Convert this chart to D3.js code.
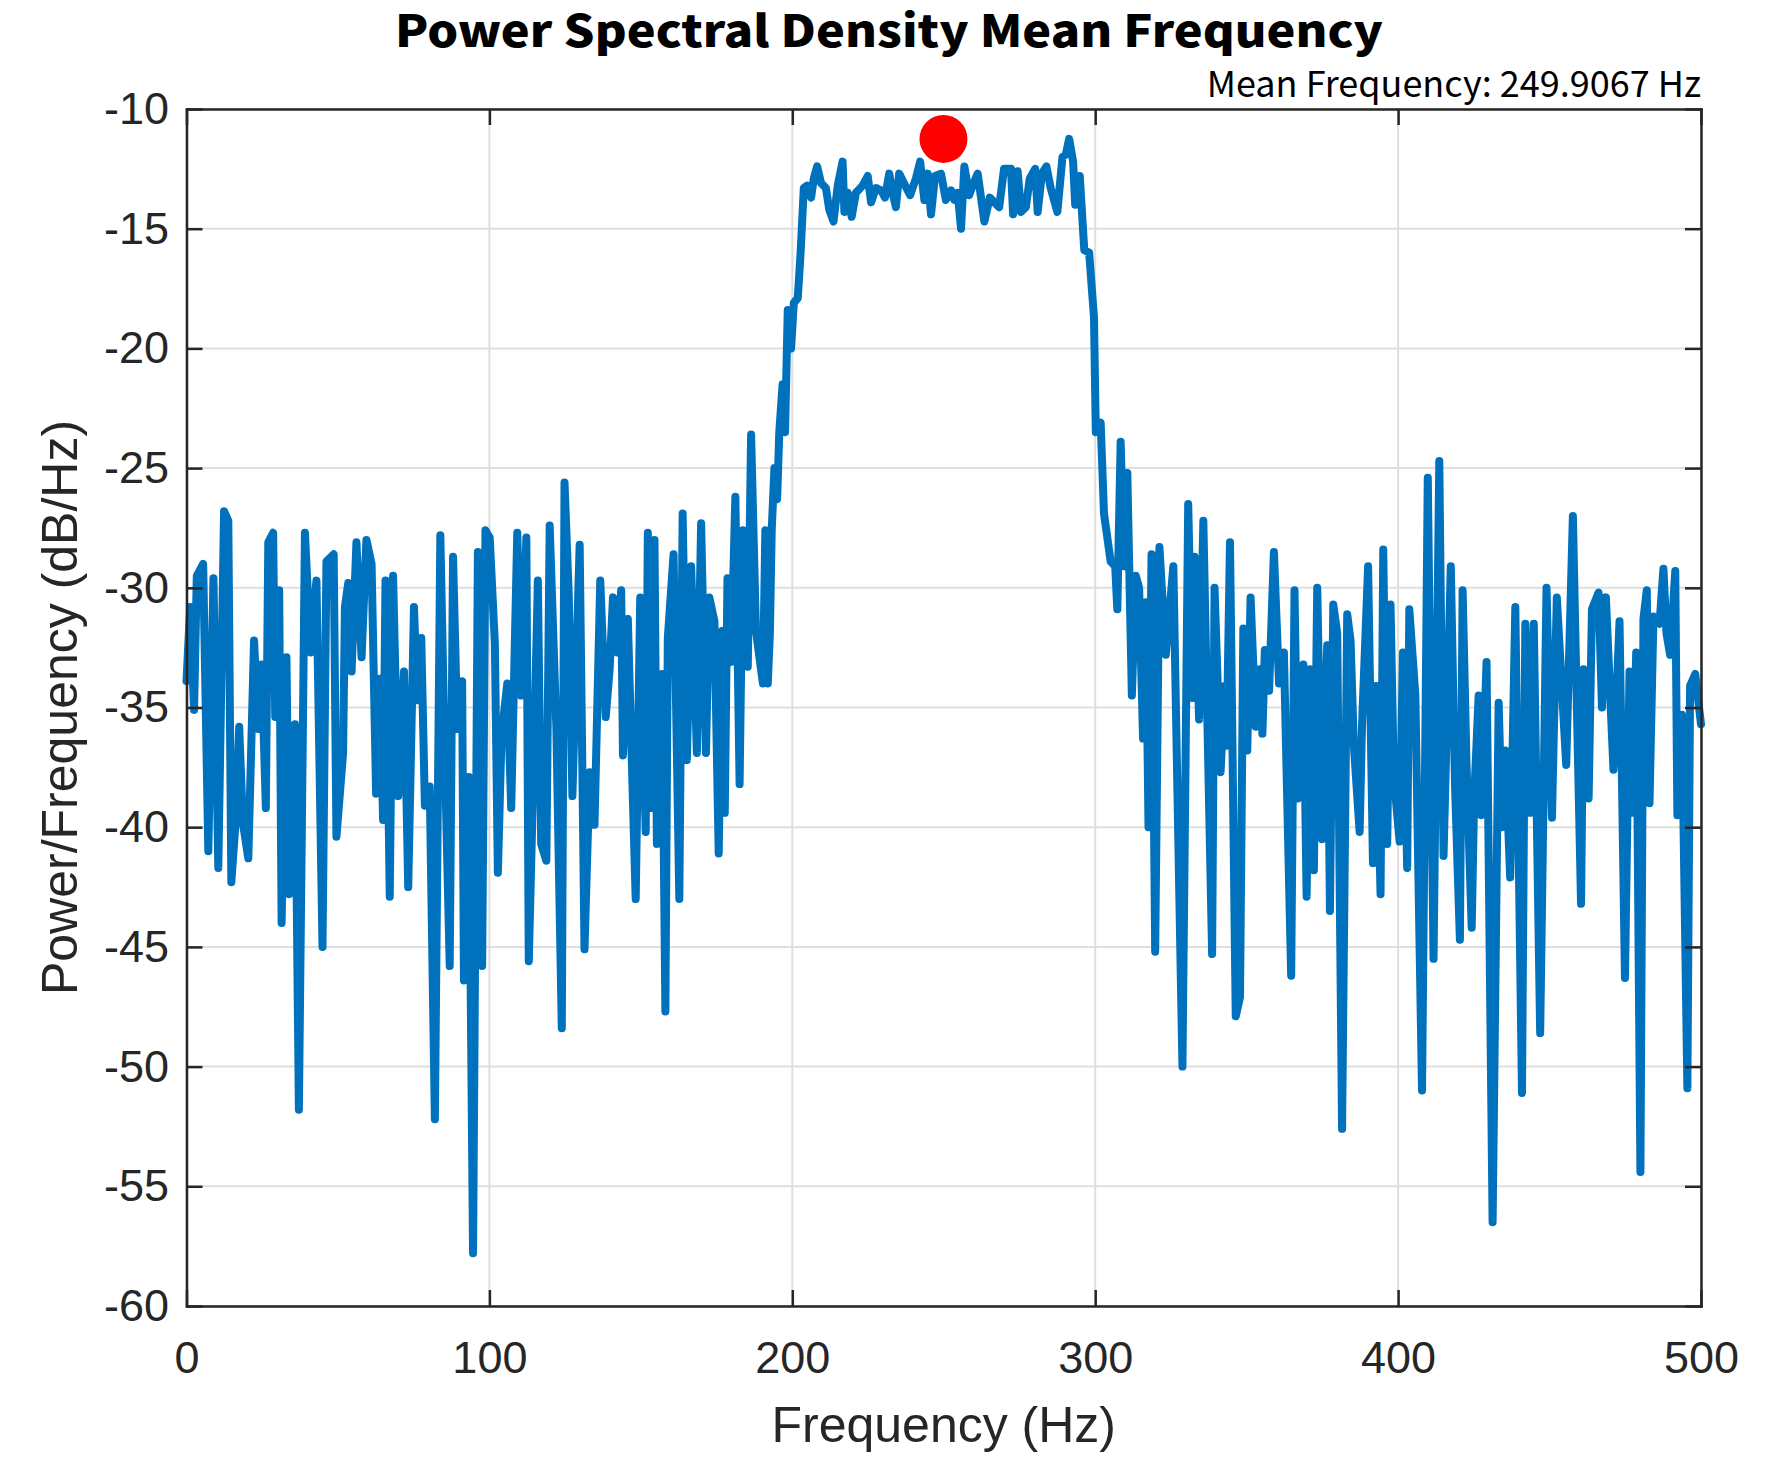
<!DOCTYPE html>
<html>
<head>
<meta charset="utf-8">
<script src="https://cdn.jsdelivr.net/npm/d3@7"></script>
<style>
  html, body { margin: 0; padding: 0; background: #ffffff; }
  svg { display: block; }
</style>
</head>
<body>
<svg id="chart" width="1781" height="1465"></svg>
<script>
// ---------------- data ----------------
const freqHz = [
  0, 1.2, 2.5, 3.4, 5.5, 7.2, 8.9, 10.5, 12.4, 13.8,
  14.8, 16.2, 17.4, 18.6, 20.4, 22.3, 23.7, 24.8, 26.2, 27.0,
  28.6, 29.3, 30.6, 31.4, 33.0, 33.9, 35.8, 37.1, 39.1, 41.0,
  42.9, 44.9, 46.2, 48.6, 49.5, 51.7, 52.3, 53.4, 54.5, 56.1,
  57.8, 59.4, 61.1, 62.6, 63.8, 64.9, 65.7, 67.1, 68.2, 69.9,
  71.8, 73.2, 75.1, 76.2, 77.5, 78.7, 80.3, 82.0, 83.8, 85.3,
  86.9, 88.0, 89.4, 91.0, 91.6, 93.2, 94.6, 96.2, 97.6, 98.7,
  100.1, 101.8, 102.8, 104.0, 105.9, 107.2, 109.2, 110.5, 112.2, 113.0,
  114.7, 116.0, 117.1, 118.8, 119.9, 122.1, 123.9, 124.8, 126.2, 127.4,
  129.8, 131.4, 133.1, 134.7, 136.6, 138.4, 139.7, 140.8, 142.2, 143.5,
  144.1, 145.7, 148.3, 149.8, 151.6, 152.3, 153.4, 154.5, 155.3, 157.0,
  158.1, 158.9, 160.8, 162.7, 163.8, 165.2, 166.6, 168.5, 169.9, 171.5,
  172.6, 174.3, 175.7, 176.8, 177.7, 178.6, 179.8, 181.2, 182.6, 183.7,
  185.3, 186.4, 188.0, 190.3, 191.1, 191.9, 192.6, 193.2, 194.1, 195.0,
  195.7, 196.8, 197.6, 198.5, 199.6, 200.5, 201.8, 202.7, 203.8, 204.9,
  206.2, 207.1, 208.2, 209.5, 211.1, 212.2, 213.6, 215.0, 216.6, 217.2,
  218.3, 219.6, 221.0, 223.2, 224.9, 226.0, 227.6, 229.3, 230.6, 232.0,
  233.1, 234.2, 235.3, 236.9, 238.9, 240.8, 242.2, 243.6, 244.7, 245.8,
  247.1, 249.1, 250.7, 252.4, 253.5, 254.6, 255.7, 256.8, 258.4, 259.5,
  261.2, 263.4, 265.2, 266.7, 268.3, 269.9, 272.2, 272.9, 274.4, 275.5,
  277.1, 278.4, 280.2, 281.0, 282.4, 283.9, 285.3, 287.5, 289.2, 290.3,
  291.4, 292.7, 293.4, 294.9, 296.4, 298.0, 299.6, 300.2, 301.8, 302.9,
  305.1, 306.6, 307.3, 308.4, 309.5, 310.6, 312.1, 313.4, 314.5, 315.8,
  316.7, 317.6, 318.6, 319.8, 321.2, 323.3, 325.8, 328.8, 330.7, 332.1,
  332.8, 334.3, 335.7, 338.6, 339.4, 341.4, 342.7, 343.4, 344.5, 346.4,
  347.8, 348.9, 350.2, 351.3, 353.0, 354.4, 355.2, 356.0, 357.4, 359.0,
  360.7, 362.3, 364.7, 365.8, 366.9, 368.7, 369.8, 370.9, 372.2, 373.3,
  374.9, 376.6, 377.5, 378.6, 379.9, 381.5, 383.2, 384.3, 385.4, 387.3,
  388.1, 390.1, 391.7, 392.7, 394.2, 395.1, 396.4, 397.5, 398.6, 400.5,
  401.6, 403.0, 403.7, 405.7, 407.9, 409.8, 411.7, 413.6, 415.0, 417.4,
  418.8, 420.4, 421.3, 422.6, 424.3, 425.1, 426.6, 427.5, 429.2, 431.2,
  433.2, 434.3, 435.4, 437.0, 438.7, 440.9, 442.0, 443.6, 444.8, 446.9,
  449.0, 450.8, 452.4, 455.5, 457.7, 460.4, 461.2, 462.9, 464.0, 466.2,
  467.3, 468.6, 471.1, 473.1, 474.9, 476.4, 477.5, 478.6, 480.0, 481.0,
  482.1, 483.0, 484.3, 486.3, 487.6, 488.6, 489.8, 491.5, 492.2, 493.7,
  495.5, 496.4, 498.1, 500.0
];

const powerDb = [
  -33.9, -30.8, -35.1, -29.5, -29.0, -41.0, -29.6, -41.7, -26.8, -27.2,
  -42.3, -39.8, -35.8, -39.8, -41.3, -32.2, -35.9, -33.2, -39.2, -28.1,
  -27.7, -35.4, -30.1, -44.0, -32.9, -42.8, -35.7, -51.8, -27.7, -32.7,
  -29.7, -45.0, -28.9, -28.6, -40.4, -36.9, -30.8, -29.8, -33.5, -28.1,
  -32.9, -28.0, -29.0, -38.6, -33.8, -39.7, -29.7, -42.9, -29.5, -38.7,
  -33.5, -42.5, -30.8, -34.7, -32.1, -39.1, -38.3, -52.2, -27.8, -37.1,
  -45.8, -28.7, -35.9, -33.9, -46.4, -37.9, -57.8, -28.5, -45.8, -27.6,
  -27.9, -32.3, -41.9, -36.2, -34.0, -39.2, -27.7, -34.5, -27.9, -45.6,
  -36.9, -29.7, -40.7, -41.4, -27.4, -35.8, -48.4, -25.6, -30.3, -38.7,
  -28.2, -45.1, -37.7, -39.9, -29.7, -35.4, -33.4, -30.4, -32.7, -30.1,
  -37.0, -31.3, -43.0, -30.4, -40.2, -27.7, -39.2, -28.0, -40.7, -33.6,
  -47.7, -32.1, -28.6, -43.0, -26.9, -37.2, -29.1, -36.9, -27.3, -36.9,
  -30.4, -31.4, -41.1, -31.8, -39.4, -29.6, -33.1, -26.2, -38.2, -27.6,
  -33.3, -23.6, -31.8, -34.0, -27.6, -34.0, -31.9, -27.6, -25.0, -26.3,
  -23.5, -21.5, -23.5, -18.4, -20.0, -18.1, -17.9, -16.1, -13.3, -13.2,
  -13.7, -12.9, -12.4, -13.1, -13.3, -14.2, -14.7, -13.2, -12.2, -14.3,
  -13.5, -14.5, -13.5, -13.2, -12.8, -13.9, -13.3, -13.4, -13.7, -12.7,
  -13.5, -14.1, -12.7, -13.1, -13.6, -12.9, -12.2, -13.8, -12.7, -14.4,
  -12.8, -12.7, -13.8, -13.4, -13.8, -13.5, -15.0, -12.4, -13.6, -13.2,
  -12.7, -14.7, -13.7, -13.9, -14.1, -12.5, -12.5, -14.4, -12.6, -14.3,
  -14.1, -12.9, -12.5, -14.3, -12.7, -12.4, -13.3, -14.3, -12.0, -11.9,
  -11.25, -12.2, -14.0, -12.8, -15.9, -16.0, -18.7, -23.5, -23.1, -26.9,
  -28.9, -29.1, -30.9, -23.9, -29.1, -25.2, -34.5, -29.5, -30.0, -36.3,
  -30.6, -40.0, -28.6, -45.2, -28.3, -32.8, -29.1, -50.0, -26.5, -34.6,
  -28.7, -35.5, -27.2, -45.3, -30.0, -37.7, -34.1, -36.6, -28.1, -47.9,
  -47.1, -31.7, -36.8, -30.4, -35.8, -33.4, -36.1, -32.6, -34.3, -28.5,
  -34.0, -32.7, -46.2, -30.1, -38.8, -33.2, -42.9, -33.4, -41.8, -30.0,
  -40.5, -32.4, -43.5, -30.7, -31.9, -52.6, -31.1, -32.2, -36.6, -40.2,
  -35.7, -29.1, -41.5, -34.1, -42.8, -28.4, -40.7, -30.7, -37.9, -40.6,
  -32.7, -41.7, -30.9, -34.5, -51.0, -25.4, -45.5, -24.7, -41.2, -29.1,
  -38.3, -44.7, -30.1, -37.4, -44.2, -38.8, -34.5, -39.5, -33.1, -56.5,
  -34.8, -40.0, -36.8, -42.1, -30.8, -51.1, -31.5, -39.4, -31.5, -48.6,
  -30.0, -39.6, -30.4, -37.4, -27.0, -43.2, -33.4, -38.8, -30.9, -30.2,
  -35.0, -30.4, -37.6, -31.4, -46.3, -33.5, -39.4, -32.7, -54.4, -31.3,
  -30.1, -39.0, -31.2, -31.5, -29.2, -31.9, -32.8, -29.3, -39.5, -35.3,
  -50.9, -34.1, -33.6, -35.7
];

const xTicks = [0, 100, 200, 300, 400, 500];
const yTicks = [-10, -15, -20, -25, -30, -35, -40, -45, -50, -55, -60];
const xDomain = [0, 500];
const yDomain = [-60, -10];
const meanFrequency = 249.9067;
const titleText = "Power Spectral Density Mean Frequency";
const meanLabel = "Mean Frequency: " + meanFrequency.toFixed(4) + " Hz";
const xLabel = "Frequency (Hz)";
const yLabel = "Power/Frequency (dB/Hz)";

// ---------------- drawing ----------------
const svg = d3.select("#chart");
const plot = { left: 186.5, right: 1701, top: 109, bottom: 1306 };
const axisColor = "#262626";
const tickFont = "'Liberation Sans', Arial, Helvetica, sans-serif";
const cjkFont = "'Noto Sans CJK SC', 'Noto Sans', sans-serif";

svg.append("rect").attr("width", 1781).attr("height", 1465).attr("fill", "#ffffff");

const x = d3.scaleLinear().domain(xDomain).range([plot.left, plot.right]);
const y = d3.scaleLinear().domain(yDomain).range([plot.bottom, plot.top]);

// grid
const grid = svg.append("g").attr("stroke", "#dfdfdf").attr("stroke-width", 2);
grid.selectAll("line.v").data(xTicks).join("line")
  .attr("class", "v")
  .attr("x1", d => x(d)).attr("x2", d => x(d))
  .attr("y1", y(yDomain[0])).attr("y2", y(yDomain[1]));
grid.selectAll("line.h").data(yTicks).join("line")
  .attr("class", "h")
  .attr("y1", d => y(d)).attr("y2", d => y(d))
  .attr("x1", x(xDomain[0])).attr("x2", x(xDomain[1]));

// PSD line
const points = freqHz.map((f, i) => ({ f: f, p: powerDb[i] }));
const line = d3.line().x(d => x(d.f)).y(d => y(d.p));
svg.append("path")
  .datum(points)
  .attr("d", line)
  .attr("fill", "none")
  .attr("stroke", "#0072BD")
  .attr("stroke-width", 8)
  .attr("stroke-linejoin", "round")
  .attr("stroke-linecap", "round");

// mean-frequency marker at the peak level
const peak = d3.max(powerDb);
svg.append("circle")
  .attr("cx", x(meanFrequency))
  .attr("cy", y(peak))
  .attr("r", 24)
  .attr("fill", "#ff0000");

// axes
function styleAxis(g) {
  g.selectAll("path.domain")
    .attr("stroke", axisColor).attr("stroke-width", 2.5).attr("stroke-linecap", "square");
  g.selectAll(".tick line").attr("stroke", axisColor).attr("stroke-width", 2.5);
  g.selectAll(".tick text")
    .attr("fill", axisColor)
    .style("font-family", tickFont)
    .style("font-size", "45px");
}
const fmt = d => String(d);

svg.append("g")
  .attr("transform", `translate(0,${y(yDomain[0])})`)
  .call(d3.axisBottom(x).tickValues(xTicks).tickSizeInner(-16).tickSizeOuter(0).tickPadding(35).tickFormat(fmt))
  .call(styleAxis);

svg.append("g")
  .attr("transform", `translate(0,${y(yDomain[1])})`)
  .call(d3.axisTop(x).tickValues(xTicks).tickSizeInner(-16).tickSizeOuter(0).tickFormat(""))
  .call(styleAxis);

svg.append("g")
  .attr("transform", `translate(${x(xDomain[0])},0)`)
  .call(d3.axisLeft(y).tickValues(yTicks).tickSizeInner(-16).tickSizeOuter(0).tickPadding(17.5).tickFormat(fmt))
  .call(styleAxis);

svg.append("g")
  .attr("transform", `translate(${x(xDomain[1])},0)`)
  .call(d3.axisRight(y).tickValues(yTicks).tickSizeInner(-16).tickSizeOuter(0).tickFormat(""))
  .call(styleAxis);

// axis labels
svg.append("text")
  .attr("x", (plot.left + plot.right) / 2)
  .attr("y", 1442)
  .attr("text-anchor", "middle")
  .attr("fill", axisColor)
  .style("font-family", tickFont)
  .style("font-size", "50px")
  .text(xLabel);

svg.append("text")
  .attr("transform", `translate(77,${(plot.top + plot.bottom) / 2}) rotate(-90)`)
  .attr("text-anchor", "middle")
  .attr("fill", axisColor)
  .style("font-family", tickFont)
  .style("font-size", "50px")
  .text(yLabel);

// title and subtitle
svg.append("text")
  .attr("x", 395)
  .attr("y", 47)
  .attr("text-anchor", "start")
  .attr("textLength", 988)
  .attr("lengthAdjust", "spacingAndGlyphs")
  .attr("fill", "#000000")
  .style("font-family", cjkFont)
  .style("font-weight", "900")
  .style("font-size", "44px")
  .text(titleText);

svg.append("text")
  .attr("x", plot.right)
  .attr("y", 97)
  .attr("text-anchor", "end")
  .attr("fill", "#000000")
  .style("font-family", cjkFont)
  .style("font-size", "36px")
  .text(meanLabel);
</script>
</body>
</html>
